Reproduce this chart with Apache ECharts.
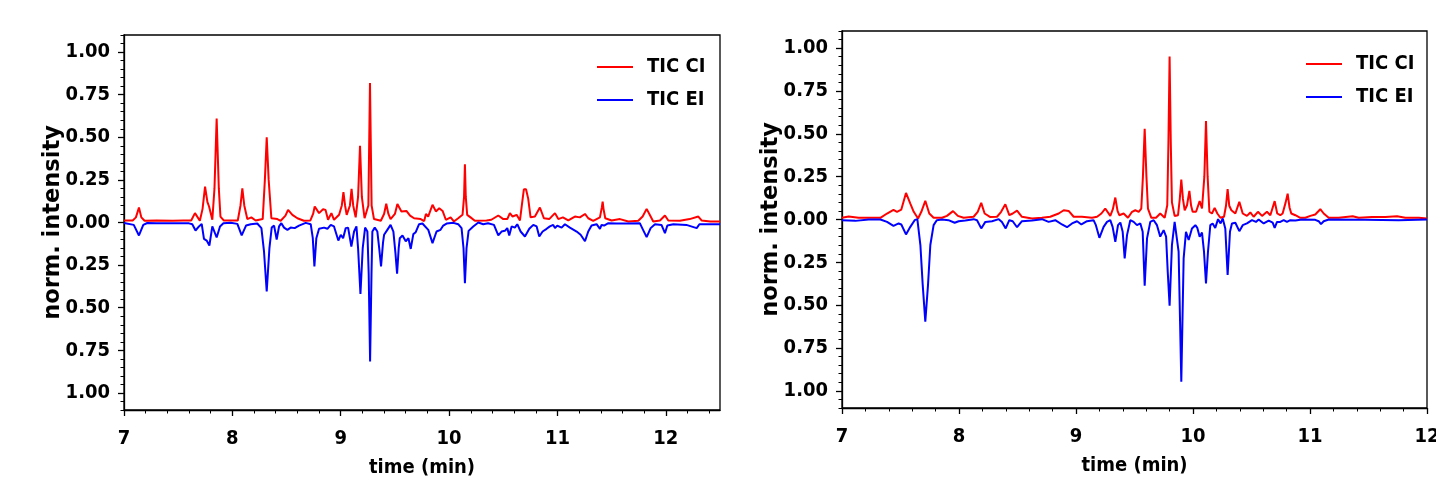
<!DOCTYPE html>
<html>
<head>
<meta charset="utf-8">
<script src="https://cdn.jsdelivr.net/npm/echarts@6/dist/echarts.min.js"></script>
<style>
html,body{margin:0;padding:0;background:#fff;}
#chart{width:1436px;height:484px;}
</style>
</head>
<body>
<div id="chart"></div>
<script>
// ---------- data ----------
const seriesNames = ['TIC CI', 'TIC EI'];
const xTicksLeft = [7, 8, 9, 10, 11, 12];
const xTicksRight = [7, 8, 9, 10, 11, 12];
const yTicks = [-1, -0.75, -0.5, -0.25, 0, 0.25, 0.5, 0.75, 1];

const leftCI = [[7.00,0.012],[7.08,0.012],[7.11,0.03],[7.138,0.088],[7.16,0.03],[7.19,0.01],[7.30,0.012],[7.45,0.01],[7.55,0.012],[7.62,0.012],[7.655,0.055],[7.70,0.01],[7.725,0.08],[7.748,0.21],[7.77,0.12],[7.785,0.094],[7.815,0.016],[7.835,0.2],[7.855,0.61],[7.875,0.2],[7.89,0.035],[7.92,0.012],[8.05,0.012],[8.075,0.1],[8.092,0.20],[8.11,0.1],[8.138,0.02],[8.175,0.03],[8.215,0.012],[8.28,0.02],[8.30,0.25],[8.317,0.50],[8.335,0.25],[8.36,0.025],[8.415,0.02],[8.446,0.01],[8.49,0.04],[8.514,0.074],[8.554,0.045],[8.60,0.025],[8.66,0.01],[8.72,0.012],[8.745,0.05],[8.76,0.094],[8.80,0.055],[8.837,0.078],[8.86,0.074],[8.883,0.016],[8.914,0.055],[8.938,0.016],[8.985,0.045],[9.01,0.1],[9.025,0.178],[9.04,0.1],[9.055,0.045],[9.085,0.1],[9.10,0.198],[9.115,0.1],[9.138,0.03],[9.16,0.15],[9.178,0.45],[9.195,0.15],[9.22,0.025],[9.255,0.1],[9.27,0.818],[9.285,0.1],[9.307,0.02],[9.37,0.01],[9.40,0.05],[9.42,0.11],[9.44,0.05],[9.46,0.02],[9.50,0.05],[9.523,0.108],[9.56,0.065],[9.606,0.068],[9.64,0.04],[9.677,0.025],[9.738,0.02],[9.77,0.008],[9.786,0.05],[9.807,0.035],[9.847,0.104],[9.878,0.065],[9.909,0.084],[9.94,0.068],[9.97,0.016],[10.014,0.03],[10.044,0.006],[10.084,0.025],[10.124,0.045],[10.138,0.15],[10.146,0.342],[10.154,0.15],[10.167,0.045],[10.198,0.03],[10.238,0.01],[10.346,0.012],[10.39,0.016],[10.454,0.041],[10.50,0.02],[10.537,0.02],[10.561,0.055],[10.586,0.035],[10.623,0.045],[10.654,0.012],[10.675,0.12],[10.69,0.195],[10.71,0.195],[10.73,0.14],[10.752,0.03],[10.792,0.035],[10.838,0.088],[10.875,0.025],[10.924,0.02],[10.977,0.055],[11.008,0.02],[11.05,0.03],[11.10,0.012],[11.161,0.035],[11.207,0.03],[11.254,0.05],[11.284,0.025],[11.33,0.01],[11.392,0.03],[11.41,0.09],[11.417,0.123],[11.425,0.08],[11.441,0.025],[11.50,0.012],[11.577,0.02],[11.654,0.006],[11.746,0.01],[11.786,0.035],[11.823,0.08],[11.86,0.035],[11.884,0.006],[11.946,0.012],[11.992,0.041],[12.023,0.012],[12.13,0.01],[12.22,0.02],[12.30,0.035],[12.33,0.012],[12.41,0.006],[12.50,0.006]];

const leftEI = [[7.00,-0.003],[7.09,-0.014],[7.138,-0.076],[7.178,-0.014],[7.215,-0.003],[7.30,-0.005],[7.45,-0.005],[7.60,-0.005],[7.63,-0.01],[7.66,-0.047],[7.692,-0.023],[7.717,-0.008],[7.738,-0.096],[7.763,-0.106],[7.788,-0.135],[7.815,-0.023],[7.83,-0.018],[7.855,-0.088],[7.886,-0.023],[7.917,-0.004],[7.985,-0.002],[8.046,-0.008],[8.086,-0.076],[8.126,-0.018],[8.17,-0.01],[8.23,-0.006],[8.268,-0.033],[8.292,-0.17],[8.317,-0.405],[8.342,-0.15],[8.363,-0.03],[8.385,-0.018],[8.409,-0.10],[8.431,-0.023],[8.452,-0.004],[8.477,-0.03],[8.508,-0.043],[8.538,-0.03],[8.575,-0.033],[8.615,-0.018],[8.677,-0.002],[8.723,-0.01],[8.742,-0.09],[8.757,-0.258],[8.775,-0.092],[8.80,-0.037],[8.846,-0.03],[8.877,-0.037],[8.908,-0.014],[8.938,-0.023],[8.978,-0.106],[9.00,-0.072],[9.022,-0.092],[9.046,-0.033],[9.068,-0.03],[9.098,-0.141],[9.123,-0.053],[9.145,-0.023],[9.16,-0.15],[9.182,-0.419],[9.203,-0.15],[9.225,-0.03],[9.246,-0.053],[9.258,-0.3],[9.271,-0.816],[9.284,-0.3],[9.292,-0.053],[9.314,-0.03],[9.338,-0.053],[9.355,-0.15],[9.372,-0.258],[9.39,-0.12],[9.40,-0.072],[9.43,-0.043],[9.46,-0.014],[9.486,-0.053],[9.505,-0.18],[9.52,-0.30],[9.535,-0.15],[9.545,-0.092],[9.57,-0.076],[9.60,-0.11],[9.625,-0.092],[9.646,-0.155],[9.67,-0.068],[9.692,-0.057],[9.723,-0.01],[9.754,-0.006],[9.768,-0.014],[9.808,-0.043],[9.847,-0.121],[9.884,-0.053],[9.921,-0.043],[9.946,-0.018],[9.977,-0.006],[10.04,-0.002],[10.084,-0.01],[10.115,-0.033],[10.133,-0.15],[10.146,-0.356],[10.161,-0.15],[10.18,-0.049],[10.223,-0.023],[10.27,0.0],[10.315,-0.01],[10.36,-0.004],[10.414,-0.014],[10.454,-0.076],[10.484,-0.053],[10.515,-0.049],[10.537,-0.033],[10.555,-0.076],[10.577,-0.023],[10.607,-0.03],[10.629,-0.01],[10.66,-0.053],[10.70,-0.082],[10.74,-0.037],[10.777,-0.014],[10.808,-0.023],[10.832,-0.082],[10.863,-0.053],[10.90,-0.037],[10.93,-0.023],[10.961,-0.014],[10.977,-0.033],[10.998,-0.018],[11.038,-0.03],[11.069,-0.01],[11.115,-0.03],[11.177,-0.053],[11.214,-0.072],[11.254,-0.11],[11.284,-0.053],[11.315,-0.018],[11.361,-0.01],[11.392,-0.037],[11.407,-0.014],[11.43,-0.018],[11.47,-0.004],[11.546,-0.006],[11.638,-0.006],[11.76,-0.004],[11.79,-0.043],[11.823,-0.086],[11.86,-0.033],[11.90,-0.01],[11.96,-0.014],[11.992,-0.063],[12.014,-0.018],[12.07,-0.01],[12.19,-0.014],[12.285,-0.033],[12.31,-0.01],[12.41,-0.01],[12.50,-0.01]];

const rightCI = [[7.00,0.01],[7.057,0.017],[7.142,0.01],[7.228,0.01],[7.328,0.01],[7.385,0.035],[7.44,0.056],[7.47,0.045],[7.507,0.058],[7.547,0.155],[7.584,0.093],[7.613,0.045],[7.65,0.006],[7.678,0.045],[7.712,0.109],[7.746,0.035],[7.783,0.01],[7.855,0.01],[7.897,0.021],[7.949,0.049],[7.99,0.021],[8.04,0.01],[8.125,0.016],[8.16,0.045],[8.19,0.097],[8.219,0.035],[8.268,0.014],[8.325,0.016],[8.36,0.045],[8.396,0.089],[8.43,0.025],[8.459,0.035],[8.496,0.052],[8.538,0.016],[8.624,0.006],[8.709,0.01],[8.78,0.016],[8.852,0.035],[8.895,0.054],[8.937,0.05],[8.98,0.016],[9.05,0.016],[9.137,0.01],[9.18,0.016],[9.217,0.035],[9.25,0.064],[9.293,0.021],[9.315,0.06],[9.336,0.128],[9.355,0.05],[9.37,0.025],[9.407,0.035],[9.444,0.01],[9.479,0.045],[9.507,0.054],[9.536,0.045],[9.558,0.064],[9.572,0.25],[9.587,0.53],[9.602,0.25],[9.615,0.064],[9.644,0.01],[9.684,0.01],[9.72,0.035],[9.758,0.01],[9.78,0.083],[9.79,0.45],[9.80,0.951],[9.81,0.45],[9.82,0.1],[9.843,0.021],[9.872,0.025],[9.887,0.12],[9.90,0.233],[9.914,0.12],[9.929,0.054],[9.949,0.083],[9.969,0.167],[9.984,0.08],[9.997,0.045],[10.026,0.045],[10.057,0.107],[10.077,0.064],[10.097,0.25],[10.111,0.575],[10.125,0.25],[10.14,0.045],[10.162,0.035],[10.185,0.068],[10.208,0.035],[10.234,0.01],[10.265,0.016],[10.282,0.08],[10.296,0.177],[10.31,0.08],[10.328,0.054],[10.362,0.035],[10.396,0.103],[10.425,0.035],[10.461,0.021],[10.49,0.041],[10.518,0.016],[10.555,0.045],[10.59,0.021],[10.632,0.045],[10.661,0.025],[10.698,0.107],[10.72,0.035],[10.746,0.025],[10.766,0.035],[10.792,0.1],[10.809,0.151],[10.825,0.07],[10.84,0.035],[10.875,0.025],[10.917,0.01],[10.96,0.01],[11.003,0.021],[11.045,0.029],[11.088,0.06],[11.117,0.035],[11.16,0.01],[11.245,0.01],[11.365,0.019],[11.416,0.01],[11.53,0.014],[11.644,0.014],[11.744,0.019],[11.815,0.01],[11.93,0.01],[12.00,0.006]];

const rightEI = [[7.00,-0.004],[7.114,-0.008],[7.228,0],[7.328,0],[7.385,-0.014],[7.44,-0.037],[7.484,-0.023],[7.507,-0.029],[7.547,-0.087],[7.584,-0.043],[7.621,-0.004],[7.644,0.002],[7.67,-0.149],[7.69,-0.383],[7.712,-0.596],[7.735,-0.383],[7.755,-0.149],[7.783,-0.033],[7.81,-0.004],[7.855,0],[7.91,-0.004],[7.963,-0.019],[7.997,-0.01],[8.054,-0.006],[8.125,0.002],[8.154,-0.004],[8.19,-0.052],[8.225,-0.014],[8.282,-0.01],[8.34,0.002],[8.367,-0.014],[8.399,-0.052],[8.43,-0.004],[8.459,-0.01],[8.496,-0.045],[8.538,-0.01],[8.624,-0.006],[8.709,0.002],[8.766,-0.014],[8.823,-0.004],[8.88,-0.029],[8.923,-0.045],[8.966,-0.023],[9.009,-0.01],[9.046,-0.029],[9.094,-0.01],[9.15,-0.004],[9.17,-0.033],[9.20,-0.107],[9.236,-0.043],[9.265,-0.014],[9.293,-0.004],[9.313,-0.043],[9.336,-0.13],[9.359,-0.033],[9.379,-0.018],[9.399,-0.072],[9.416,-0.227],[9.436,-0.091],[9.464,-0.004],[9.493,-0.014],[9.521,-0.033],[9.55,-0.023],[9.57,-0.072],[9.587,-0.386],[9.607,-0.11],[9.635,-0.014],[9.664,-0.004],[9.692,-0.033],[9.72,-0.10],[9.749,-0.062],[9.77,-0.10],[9.784,-0.305],[9.80,-0.503],[9.82,-0.149],[9.843,-0.014],[9.86,-0.004],[9.877,-0.188],[9.90,-0.946],[9.92,-0.227],[9.94,-0.072],[9.963,-0.12],[9.991,-0.052],[10.02,-0.033],[10.037,-0.049],[10.057,-0.10],[10.077,-0.076],[10.094,-0.188],[10.111,-0.373],[10.128,-0.188],[10.148,-0.033],[10.168,-0.023],[10.19,-0.049],[10.214,0.002],[10.236,-0.023],[10.254,0.006],[10.276,-0.052],[10.296,-0.324],[10.316,-0.072],[10.333,-0.023],[10.362,-0.019],[10.396,-0.068],[10.425,-0.033],[10.461,-0.023],[10.504,-0.004],[10.538,-0.014],[10.561,0],[10.604,-0.023],[10.647,-0.006],[10.681,-0.018],[10.698,-0.049],[10.718,-0.014],[10.746,-0.014],[10.775,-0.004],[10.803,-0.014],[10.832,-0.004],[10.875,-0.006],[10.932,0],[11.045,-0.002],[11.074,-0.01],[11.094,-0.027],[11.117,-0.01],[11.16,0],[11.473,-0.002],[11.758,-0.004],[12.00,0]];

// ---------- helpers ----------
function minorTicks(lo, hi, step, majors) {
  const out = [];
  for (let v = lo; v <= hi + 1e-9; v += step) {
    const r = Math.round(v * 1000) / 1000;
    if (!majors.some(m => Math.abs(m - r) < 1e-6)) out.push(r);
  }
  return out;
}
const FONT = '"DejaVu Sans Condensed", "DejaVu Sans", sans-serif';
const RED = '#ff0000', BLUE = '#0000ff';

const panels = [
  { grid: { left: 124, top: 35, width: 596, height: 375 }, xMax: 12.5, xTicks: xTicksLeft, ci: leftCI, ei: leftEI, legend: { left: 597, top: 57 } },
  { grid: { left: 842, top: 31, width: 585, height: 377 }, xMax: 12, xTicks: xTicksRight, ci: rightCI, ei: rightEI, legend: { left: 1306, top: 54 } }
];

const grids = [], xAxes = [], yAxes = [], series = [], legends = [];
const yMinor = minorTicks(-1.1, 1.1, 0.05, yTicks);

panels.forEach((p, i) => {
  const gMain = grids.length;
  grids.push(Object.assign({ show: true, borderColor: '#000', borderWidth: 1.3, backgroundColor: 'transparent', containLabel: false, outerBoundsMode: 'none' }, p.grid));
  const gMinor = grids.length;
  grids.push(Object.assign({ show: false, containLabel: false, outerBoundsMode: 'none' }, p.grid));

  const xMinor = minorTicks(7, p.xMax, 0.2, p.xTicks);

  xAxes.push({
    type: 'value', gridIndex: gMain, min: 7, max: p.xMax,
    name: 'time (min)', nameLocation: 'middle', nameGap: 48, nameMoveOverlap: false,
    nameTextStyle: { fontFamily: FONT, fontWeight: 'bold', fontSize: 20, color: '#000' },
    axisLine: { show: true, onZero: false, lineStyle: { color: '#000', width: 1.3 } },
    axisTick: { show: true, customValues: p.xTicks, length: 6, lineStyle: { color: '#000', width: 1.3 } },
    axisLabel: { show: true, customValues: p.xTicks, margin: 19, fontFamily: FONT, fontWeight: 'bold', fontSize: 20, color: '#000' },
    splitLine: { show: false }
  });
  xAxes.push({
    type: 'value', gridIndex: gMinor, min: 7, max: p.xMax,
    axisLine: { show: false, onZero: false },
    axisTick: { show: true, customValues: xMinor, length: 3.5, lineStyle: { color: '#000', width: 1 } },
    axisLabel: { show: false }, splitLine: { show: false }
  });

  yAxes.push({
    type: 'value', gridIndex: gMain, min: -1.1, max: 1.1,
    name: 'norm. intensity', nameLocation: 'middle', nameGap: 59, nameMoveOverlap: false,
    nameTextStyle: { fontFamily: '"DejaVu Sans", sans-serif', fontWeight: 'bold', fontSize: 22.5, color: '#000' },
    axisLine: { show: true, onZero: false, lineStyle: { color: '#000', width: 1.3 } },
    axisTick: { show: true, customValues: yTicks, length: 6, lineStyle: { color: '#000', width: 1.3 } },
    axisLabel: { show: true, customValues: yTicks, margin: 14, fontFamily: FONT, fontWeight: 'bold', fontSize: 20, color: '#000',
      formatter: v => Math.abs(v).toFixed(2) },
    splitLine: { show: false }
  });
  yAxes.push({
    type: 'value', gridIndex: gMinor, min: -1.1, max: 1.1,
    axisLine: { show: false, onZero: false },
    axisTick: { show: true, customValues: yMinor, length: 3.5, lineStyle: { color: '#000', width: 1 } },
    axisLabel: { show: false }, splitLine: { show: false }
  });

  const xi = i * 2, yi = i * 2;
  series.push({ type: 'line', name: seriesNames[0], xAxisIndex: xi, yAxisIndex: yi, data: p.ci,
    symbol: 'none', showSymbol: false, lineStyle: { color: RED, width: 2 }, itemStyle: { color: RED }, clip: true });
  series.push({ type: 'line', name: seriesNames[1], xAxisIndex: xi, yAxisIndex: yi, data: p.ei,
    symbol: 'none', showSymbol: false, lineStyle: { color: BLUE, width: 2 }, itemStyle: { color: BLUE }, clip: true });

  legends.push({
    data: seriesNames, orient: 'vertical', left: p.legend.left, top: p.legend.top,
    icon: 'rect', itemWidth: 36, itemHeight: 2, itemGap: 13, padding: 0,
    selectedMode: false,
    textStyle: { fontFamily: FONT, fontWeight: 'bold', fontSize: 20, lineHeight: 20, color: '#000', padding: [0, 0, 0, 9] }
  });
});

const chart = echarts.init(document.getElementById('chart'), null, { renderer: 'canvas' });
chart.setOption({
  animation: false,
  backgroundColor: '#fff',
  grid: grids, xAxis: xAxes, yAxis: yAxes, series: series, legend: legends
});
</script>
</body>
</html>
